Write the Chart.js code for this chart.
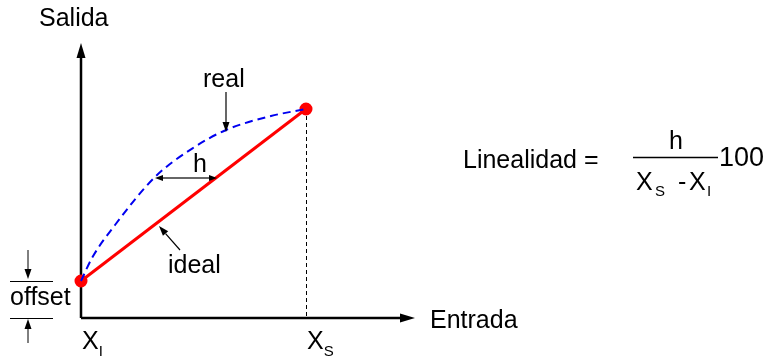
<!DOCTYPE html>
<html>
<head>
<meta charset="utf-8">
<script src="https://cdn.jsdelivr.net/npm/chart.js@4/dist/chart.umd.min.js"></script>
<style>
  html, body { margin: 0; padding: 0; background: #fff; }
  #wrap { width: 773px; height: 357px; }
</style>
</head>
<body>
<div id="wrap"><canvas id="linealidadChart"></canvas></div>
<script>
// Entrada / Salida units, origin at X_I on the input axis
const idealEntrada = [0, 225];
const idealSalida = [37, 209];

const realEntrada = [0, 11, 34, 74, 112, 145, 190, 225];
const realSalida = [37, 60, 93, 141, 170, 188, 202, 209];

const entradaLabels = ["X", "X"];
const entradaSubs = ["I", "S"];

const FONT = "'Liberation Sans', Arial, sans-serif";

function toPoints(xs, ys) {
    return xs.map((x, i) => ({ x, y: ys[i] }));
}

function drawArrow(ctx, x1, y1, x2, y2, headLen, headWidth) {
    const angle = Math.atan2(y2 - y1, x2 - x1);
    const bx = x2 - headLen * Math.cos(angle);
    const by = y2 - headLen * Math.sin(angle);
    ctx.beginPath();
    ctx.moveTo(x1, y1);
    ctx.lineTo(bx, by);
    ctx.stroke();
    ctx.beginPath();
    ctx.moveTo(x2, y2);
    ctx.lineTo(bx + headWidth / 2 * Math.sin(angle), by - headWidth / 2 * Math.cos(angle));
    ctx.lineTo(bx - headWidth / 2 * Math.sin(angle), by + headWidth / 2 * Math.cos(angle));
    ctx.closePath();
    ctx.fill();
}

const diagramPlugin = {
    id: "diagram",
    beforeDatasetsDraw(chart) {
        const { ctx, scales: { x, y } } = chart;
        const px = (v) => x.getPixelForValue(v);
        const py = (v) => y.getPixelForValue(v);
        const last = idealEntrada.length - 1;

        ctx.save();
        ctx.strokeStyle = "#000";
        ctx.fillStyle = "#000";

        // axes
        ctx.lineWidth = 2.5;
        drawArrow(ctx, px(0), py(0), px(0), py(275), 15, 9);
        drawArrow(ctx, px(0), py(0), px(334), py(0), 15, 9);

        // dashed drop line from X_S
        ctx.lineWidth = 1;
        ctx.setLineDash([4, 3]);
        ctx.beginPath();
        ctx.moveTo(px(idealEntrada[last]) + 0.5, py(idealSalida[last]));
        ctx.lineTo(px(idealEntrada[last]) + 0.5, py(0));
        ctx.stroke();
        ctx.setLineDash([]);
        ctx.restore();
    },
    afterDatasetsDraw(chart) {
        const { ctx, scales: { x, y } } = chart;
        const px = (v) => x.getPixelForValue(v);
        const py = (v) => y.getPixelForValue(v);

        ctx.save();
        ctx.strokeStyle = "#000";
        ctx.fillStyle = "#000";
        ctx.lineWidth = 1.2;

        // h arrow (both ends)
        drawArrow(ctx, px(105), py(140), px(74), py(140), 8, 6);
        drawArrow(ctx, px(105), py(140), px(136), py(140), 8, 6);

        // real / ideal pointers
        drawArrow(ctx, px(145), py(226), px(145), py(186), 10, 7);
        drawArrow(ctx, px(99), py(68), px(78), py(92), 10, 7);

        // offset markers
        ctx.lineWidth = 1;
        ctx.beginPath();
        ctx.moveTo(px(-71), py(37) + 0.5);
        ctx.lineTo(px(-28), py(37) + 0.5);
        ctx.moveTo(px(-71), py(0) + 0.5);
        ctx.lineTo(px(-28), py(0) + 0.5);
        ctx.stroke();
        drawArrow(ctx, px(-53), py(68), px(-53), py(39), 10, 7);
        drawArrow(ctx, px(-53), py(-25), px(-53), py(-1), 10, 7);

        // texts
        ctx.textBaseline = "alphabetic";
        ctx.textAlign = "left";
        ctx.font = "25px " + FONT;
        ctx.fillText("Salida", px(-42), py(292));
        ctx.fillText("Entrada", px(349), py(-10));
        ctx.fillText("real", px(122), py(231));
        ctx.fillText("ideal", px(87), py(45));
        ctx.fillText("offset", px(-71), py(13));
        ctx.textAlign = "center";
        ctx.fillText("h", px(119), py(146));

        // X_I, X_S below the input axis
        [0, idealEntrada.length - 1].forEach((idx, k) => {
            const cx = px(idealEntrada[idx]);
            ctx.textAlign = "left";
            ctx.font = "25px " + FONT;
            ctx.fillText(entradaLabels[k], cx + 1, py(-31));
            const w = ctx.measureText(entradaLabels[k]).width;
            ctx.font = "15px " + FONT;
            ctx.fillText(entradaSubs[k], cx + 1 + w, py(-38));
        });

        // formula
        ctx.textAlign = "left";
        ctx.font = "25px " + FONT;
        ctx.fillText("Linealidad =", 463, 168);
        ctx.font = "27px " + FONT;
        ctx.fillText("100", 719, 166);
        ctx.font = "25px " + FONT;
        ctx.textAlign = "center";
        ctx.fillText("h", 676, 149);
        ctx.lineWidth = 1.5;
        ctx.beginPath();
        ctx.moveTo(633, 157.5);
        ctx.lineTo(718, 157.5);
        ctx.stroke();
        ctx.textAlign = "left";
        ctx.fillText("X", 636, 190);
        ctx.fillText("-", 678, 190);
        ctx.fillText("X", 689, 190);
        ctx.font = "15px " + FONT;
        ctx.fillText("S", 655, 196);
        ctx.fillText("I", 707, 196);

        ctx.restore();
    },
};

const chartCanvas = document.getElementById("linealidadChart");

new Chart(chartCanvas, {
    type: "scatter",
    data: {
        datasets: [
            {
                label: "real",
                data: toPoints(realEntrada, realSalida),
                showLine: true,
                borderColor: "#0000f0",
                borderWidth: 2,
                borderDash: [8, 5],
                cubicInterpolationMode: "monotone",
                pointRadius: 0,
                fill: false,
            },
            {
                label: "ideal",
                data: toPoints(idealEntrada, idealSalida),
                showLine: true,
                borderColor: "#ff0000",
                borderWidth: 3,
                pointRadius: 5,
                pointBackgroundColor: "#ff0000",
                pointBorderColor: "#ff0000",
                fill: false,
            },
        ],
    },
    options: {
        responsive: true,
        maintainAspectRatio: false,
        animation: false,
        layout: { padding: 0, autoPadding: false },
        plugins: {
            legend: { display: false },
            tooltip: { enabled: false },
        },
        scales: {
            x: { type: "linear", display: false, min: -81, max: 692 },
            y: { type: "linear", display: false, min: -39, max: 318 },
        },
    },
    plugins: [diagramPlugin],
});
</script>
</body>
</html>
